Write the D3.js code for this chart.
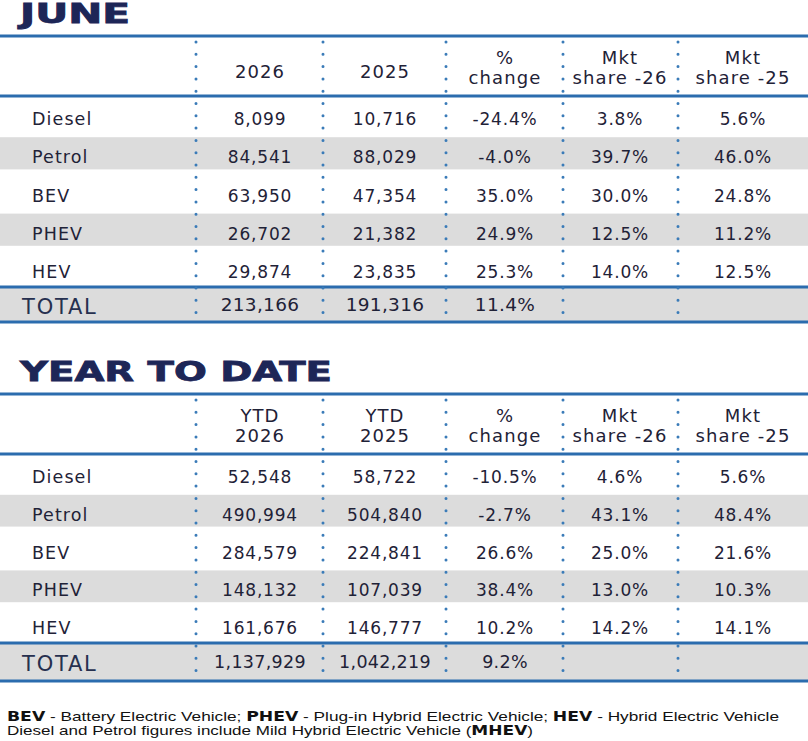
<!DOCTYPE html>
<html>
<head>
<meta charset="utf-8">
<script src="https://cdn.jsdelivr.net/npm/d3@7"></script>
<style>
  body { margin: 0; background: #fff; }
  svg { display: block; }
</style>
</head>
<body>
<script>
// Data
const fuels = ["Diesel", "Petrol", "BEV", "PHEV", "HEV"];

const juneHeaders = [["2026"], ["2025"], ["%", "change"], ["Mkt", "share -26"], ["Mkt", "share -25"]];
const june2026 = [8099, 84541, 63950, 26702, 29874];
const june2025 = [10716, 88029, 47354, 21382, 23835];
const juneChange = [-24.4, -4.0, 35.0, 24.9, 25.3];
const juneShare26 = [3.8, 39.7, 30.0, 12.5, 14.0];
const juneShare25 = [5.6, 46.0, 24.8, 11.2, 12.5];
const juneTotal = [213166, 191316, 11.4];

const ytdHeaders = [["YTD", "2026"], ["YTD", "2025"], ["%", "change"], ["Mkt", "share -26"], ["Mkt", "share -25"]];
const ytd2026 = [52548, 490994, 284579, 148132, 161676];
const ytd2025 = [58722, 504840, 224841, 107039, 146777];
const ytdChange = [-10.5, -2.7, 26.6, 38.4, 10.2];
const ytdShare26 = [4.6, 43.1, 25.0, 13.0, 14.2];
const ytdShare25 = [5.6, 48.4, 21.6, 10.3, 14.1];
const ytdTotal = [1137929, 1042219, 9.2];

// Set up
const W = 808, H = 741;
const navy = "#1d2657", ink = "#1f2237", blue = "#2b6cae", dotBlue = "#3a7bb8", grey = "#dcdcdc";
const font = "'DejaVu Sans', sans-serif";

const locale = d3.formatLocale({ decimal: ".", thousands: ",", grouping: [3], currency: ["", ""], minus: "-" });
const fmtNum = locale.format(",");
const fmtPct = v => locale.format(".1f")(v) + "%";

const svg = d3.select("body").append("svg")
    .attr("width", W)
    .attr("height", H);

// column layout
const colKeys = ["a", "b", "chg", "s26", "s25"];
const seps = [196, 323, 446, 563, 678];
const x = d3.scaleOrdinal().domain(colKeys).range([260, 385, 505, 620, 743]);

function drawTable(opt) {
    const g = svg.append("g");

    const y = d3.scaleBand().domain(fuels).range([opt.headBottom, opt.rowsBottom]);

    // grey stripes
    g.selectAll("rect.stripe")
        .data(fuels.filter((d, i) => i % 2 === 1))
        .enter().append("rect")
        .attr("x", 0)
        .attr("width", W)
        .attr("y", d => y(d) + 3)
        .attr("height", y.bandwidth() - 6)
        .attr("fill", grey);

    g.append("rect")
        .attr("x", 0).attr("width", W)
        .attr("y", opt.rowsBottom).attr("height", opt.totalBottom - opt.rowsBottom)
        .attr("fill", grey);

    // horizontal rules
    g.selectAll("line.rule")
        .data([opt.top, opt.headBottom, opt.rowsBottom, opt.totalBottom])
        .enter().append("line")
        .attr("x1", 0).attr("x2", W)
        .attr("y1", d => d).attr("y2", d => d)
        .attr("stroke", blue)
        .attr("stroke-width", 3);

    // dotted separators
    g.selectAll("line.sep")
        .data(seps)
        .enter().append("line")
        .attr("x1", d => d).attr("x2", d => d)
        .attr("y1", opt.top + 6).attr("y2", opt.totalBottom)
        .attr("stroke", dotBlue)
        .attr("stroke-width", 3)
        .attr("stroke-linecap", "round")
        .attr("stroke-dasharray", "0 12.3");

    // header
    g.selectAll("text.head")
        .data(opt.headers)
        .enter().append("text")
        .attr("text-anchor", "middle")
        .attr("font-family", font)
        .attr("font-size", 18)
        .attr("letter-spacing", 1.1)
        .attr("fill", ink)
        .each(function (lines, i) {
            const t = d3.select(this);
            if (lines.length === 1) {
                t.append("tspan").attr("x", x(colKeys[i])).attr("y", opt.top + 42).text(lines[0]);
            } else {
                t.append("tspan").attr("x", x(colKeys[i])).attr("y", opt.top + 28).text(lines[0]);
                t.append("tspan").attr("x", x(colKeys[i])).attr("y", opt.top + 48).text(lines[1]);
            }
        });

    // body rows
    const rows = fuels.map((f, i) => ({
        fuel: f,
        cells: [fmtNum(opt.a[i]), fmtNum(opt.b[i]), fmtPct(opt.chg[i]), fmtPct(opt.s26[i]), fmtPct(opt.s25[i])]
    }));

    const row = g.selectAll("g.row")
        .data(rows)
        .enter().append("g")
        .attr("transform", d => `translate(0,${y(d.fuel) + y.bandwidth() / 2 + 10})`);

    row.append("text")
        .attr("x", 32)
        .attr("font-family", font)
        .attr("font-size", 17.5)
        .attr("letter-spacing", 1.1)
        .attr("fill", ink)
        .text(d => d.fuel);

    row.selectAll("text.cell")
        .data(d => d.cells)
        .enter().append("text")
        .attr("x", (d, i) => x(colKeys[i]))
        .attr("text-anchor", "middle")
        .attr("font-family", font)
        .attr("font-size", 17)
        .attr("letter-spacing", 0.8)
        .attr("fill", ink)
        .text(d => d);

    // total row
    const tMid = (opt.rowsBottom + opt.totalBottom) / 2;
    g.append("text")
        .attr("x", 22)
        .attr("y", tMid + 9)
        .attr("font-family", font)
        .attr("font-size", 21)
        .attr("letter-spacing", 1.8)
        .attr("fill", "#26304f")
        .text("TOTAL");

    g.selectAll("text.tot")
        .data([fmtNum(opt.total[0]), fmtNum(opt.total[1]), fmtPct(opt.total[2])])
        .enter().append("text")
        .attr("x", (d, i) => x(colKeys[i]))
        .attr("y", tMid + 6)
        .attr("text-anchor", "middle")
        .attr("font-family", font)
        .attr("font-size", opt.totalSize)
        .attr("letter-spacing", opt.totalSpacing)
        .attr("fill", ink)
        .text(d => d);
}

// titles
svg.append("text")
    .attr("x", 20).attr("y", 23)
    .attr("font-family", font).attr("font-weight", "bold").attr("font-size", 26)
    .attr("fill", navy)
    .attr("stroke", navy).attr("stroke-width", 0.8)
    .attr("textLength", 110).attr("lengthAdjust", "spacingAndGlyphs")
    .text("JUNE");

svg.append("text")
    .attr("x", 20).attr("y", 381)
    .attr("font-family", font).attr("font-weight", "bold").attr("font-size", 26)
    .attr("fill", navy)
    .attr("stroke", navy).attr("stroke-width", 0.8)
    .attr("textLength", 312).attr("lengthAdjust", "spacingAndGlyphs")
    .text("YEAR TO DATE");

drawTable({
    top: 36, headBottom: 96, rowsBottom: 287, totalBottom: 322,
    headers: juneHeaders,
    a: june2026, b: june2025, chg: juneChange, s26: juneShare26, s25: juneShare25,
    total: juneTotal, totalSize: 18.5, totalSpacing: 0.3
});

drawTable({
    top: 394, headBottom: 454, rowsBottom: 643, totalBottom: 681,
    headers: ytdHeaders,
    a: ytd2026, b: ytd2025, chg: ytdChange, s26: ytdShare26, s25: ytdShare25,
    total: ytdTotal, totalSize: 17.5, totalSpacing: 0.3
});

// footnote
const foot1 = [["BEV", true], [" - Battery Electric Vehicle; ", false], ["PHEV", true],
    [" - Plug-in Hybrid Electric Vehicle; ", false], ["HEV", true], [" - Hybrid Electric Vehicle", false]];
const foot2 = [["Diesel and Petrol figures include Mild Hybrid Electric Vehicle (", false], ["MHEV", true], [")", false]];

[[foot1, 721, 772], [foot2, 735, 526]].forEach(([parts, yy, len]) => {
    const t = svg.append("text")
        .attr("x", 7).attr("y", yy)
        .attr("font-family", "'Liberation Sans', Arial, sans-serif")
        .attr("font-size", 13.5)
        .attr("fill", "#111")
        .attr("textLength", len)
        .attr("lengthAdjust", "spacingAndGlyphs");
    parts.forEach(([s, b]) => {
        t.append("tspan")
            .attr("font-weight", b ? "bold" : "normal")
            .attr("font-family", b ? font : null)
            .text(s);
    });
});
</script>
</body>
</html>
